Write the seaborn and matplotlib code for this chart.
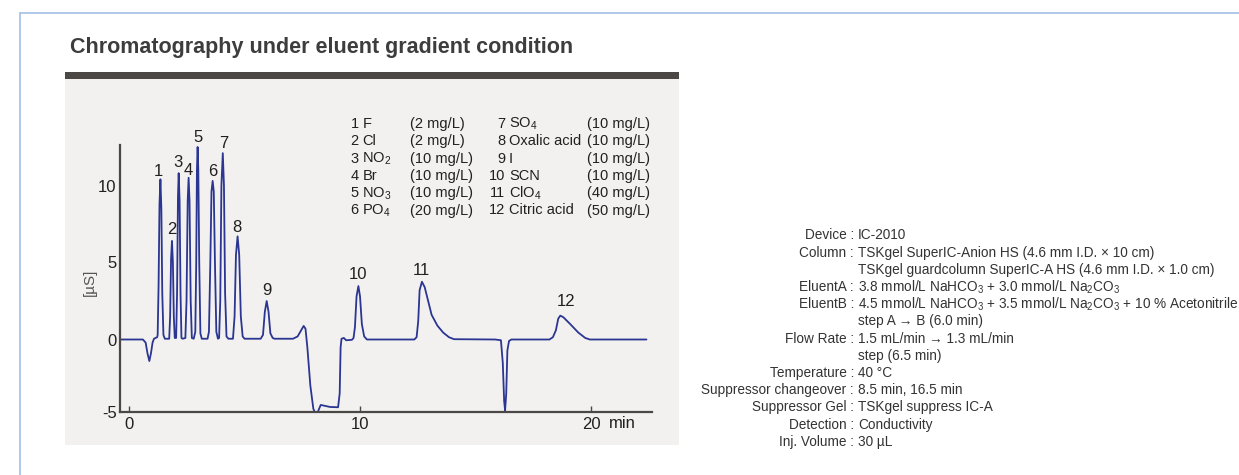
import numpy as np
import pandas as pd
import seaborn as sns
import matplotlib.pyplot as plt
from matplotlib.patches import Rectangle
from matplotlib.lines import Line2D

# trace (time in min, signal in uS)
trace_t = [-0.39, 0.6, 0.72, 0.8, 0.88, 0.95, 1.02, 1.08, 1.15, 1.22,
           1.24, 1.28, 1.32, 1.36, 1.40, 1.44, 1.49, 1.55,
           1.74, 1.78, 1.82, 1.86, 1.90, 1.94, 1.98,
           2.04, 2.08, 2.12, 2.15, 2.19, 2.23, 2.27,
           2.32, 2.44, 2.49, 2.54, 2.58, 2.62, 2.67, 2.72,
           2.80, 2.87, 2.91, 2.94, 2.97, 3.00, 3.04, 3.09, 3.15,
           3.40, 3.46, 3.52, 3.57, 3.62, 3.67, 3.72, 3.78, 3.85,
           3.90, 3.95, 4.00, 4.06, 4.11, 4.16, 4.22, 4.30,
           4.50, 4.57, 4.63, 4.70, 4.77, 4.84, 4.92, 5.00,
           5.70, 5.80, 5.88, 5.96, 6.04, 6.12, 6.22, 6.30,
           7.10, 7.30, 7.45, 7.56, 7.64, 7.72, 7.85, 7.98, 8.08, 8.14, 8.20, 8.30,
           8.45, 8.70, 9.05, 9.12, 9.16, 9.20, 9.30, 9.40, 9.65,
           9.72, 9.78, 9.85, 9.93, 10.00, 10.08, 10.18, 10.30,
           12.35, 12.45, 12.52, 12.58, 12.68, 12.80, 12.95, 13.10, 13.35, 13.60, 13.85, 14.07,
           15.85, 16.10, 16.18, 16.24, 16.28, 16.33, 16.38, 16.45, 16.55,
           18.20, 18.35, 18.48, 18.58, 18.67, 18.80, 19.10, 19.45, 19.75, 19.95,
           22.40]
trace_s = [0.0, 0.0, -0.2, -0.9, -1.4, -0.9, -0.2, 0.05, 0.1, 0.15,
           0.3, 3.5, 8.8, 10.4, 8.5, 3.0, 0.3, 0.05,
           0.05, 1.5, 5.2, 6.4, 5.0, 1.5, 0.1,
           0.1, 3.0, 9.3, 10.8, 9.0, 3.0, 0.1,
           0.05, 0.1, 2.5, 9.0, 10.5, 9.0, 2.5, 0.1,
           0.05, 0.5, 5.0, 11.0, 12.5, 11.0, 5.0, 0.4, 0.05,
           0.05, 0.5, 5.0, 9.6, 10.3, 9.6, 5.0, 0.5, 0.05,
           0.1, 2.5, 10.0, 12.1, 10.0, 3.0, 0.2, 0.05,
           0.05, 1.5, 5.5, 6.7, 5.5, 1.5, 0.2, 0.05,
           0.05, 0.3, 1.8, 2.5, 1.8, 0.4, 0.1, 0.05,
           0.05, 0.2, 0.6, 0.88, 0.7, -0.5, -3.0, -4.5, -4.85, -4.9, -4.6, -4.25,
           -4.3, -4.38, -4.4, -3.5, -0.5, 0.05, 0.1, -0.05, -0.02,
           0.1, 0.8, 2.8, 3.47, 2.8, 1.0, 0.2, 0.0,
           0.0, 0.15, 1.2, 3.2, 3.75, 3.4, 2.5, 1.6, 0.9, 0.45, 0.15, 0.02,
           0.0, -0.05, -1.5, -4.0, -4.6, -3.5, -0.7, -0.1, 0.0,
           0.0, 0.15, 0.6, 1.35, 1.55, 1.45, 1.0, 0.45, 0.1, 0.0,
           0.0]

peak_ids = ["1", "2", "3", "4", "5", "6", "7", "8", "9", "10", "11", "12"]
peak_label_t = [1.29, 1.84, 2.10, 2.57, 2.97, 3.62, 4.08, 4.67, 5.96, 9.93, 12.64, 18.92]
peak_label_s = [10.9, 7.15, 11.5, 11.0, 13.1, 10.9, 12.7, 7.3, 3.15, 4.25, 4.47, 2.45]

analyte_no = ["1", "2", "3", "4", "5", "6", "7", "8", "9", "10", "11", "12"]
analyte = ["F", "Cl", "NO$_2$", "Br", "NO$_3$", "PO$_4$",
           "SO$_4$", "Oxalic acid", "I", "SCN", "ClO$_4$", "Citric acid"]
conc = ["(2 mg/L)", "(2 mg/L)", "(10 mg/L)", "(10 mg/L)", "(10 mg/L)", "(20 mg/L)",
        "(10 mg/L)", "(10 mg/L)", "(10 mg/L)", "(10 mg/L)", "(40 mg/L)", "(50 mg/L)"]

cond_labels = ["Device", "Column", "", "EluentA", "EluentB", "", "Flow Rate", "",
               "Temperature", "Suppressor changeover", "Suppressor Gel", "Detection", "Inj. Volume"]
cond_values = ["IC-2010",
               "TSKgel SuperIC-Anion HS (4.6 mm I.D. × 10 cm)",
               "TSKgel guardcolumn SuperIC-A HS (4.6 mm I.D. × 1.0 cm)",
               "3.8 mmol/L NaHCO$_3$ + 3.0 mmol/L Na$_2$CO$_3$",
               "4.5 mmol/L NaHCO$_3$ + 3.5 mmol/L Na$_2$CO$_3$ + 10 % Acetonitrile",
               "step A → B (6.0 min)",
               "1.5 mL/min → 1.3 mL/min",
               "step (6.5 min)",
               "40 °C",
               "8.5 min, 16.5 min",
               "TSKgel suppress IC-A",
               "Conductivity",
               "30 µL"]

x_ticks = [0, 10, 20]
y_ticklabels = ["-5", "0", "5", "10"]

sns.set_style("white")
plt.rcParams['font.family'] = ['Liberation Sans', 'DejaVu Sans']
plt.rcParams['mathtext.fontset'] = 'custom'
plt.rcParams['mathtext.rm'] = 'Liberation Sans'
plt.rcParams['mathtext.it'] = 'Liberation Sans:italic'
plt.rcParams['mathtext.bf'] = 'Liberation Sans:bold'

W, H = 1239, 475
fig = plt.figure(figsize=(W / 100, H / 100), dpi=100)
fig.patch.set_facecolor('white')

def fx(px):
    return px / W

def fy(py):
    return 1 - py / H

# page frame and panel
fig.add_artist(Line2D([fx(20), fx(20)], [fy(13), 0], color='#a9c4e8', lw=1.3))
fig.add_artist(Line2D([fx(20), 1], [fy(13), fy(13)], color='#a9c4e8', lw=1.3))
fig.add_artist(Rectangle((fx(65), fy(445)), fx(679) - fx(65), fy(79) - fy(445),
                         facecolor='#f2f1ef', edgecolor='none', zorder=0))
fig.add_artist(Rectangle((fx(65), fy(79)), fx(679) - fx(65), fy(72) - fy(79),
                         facecolor='#4b4745', edgecolor='none'))
fig.text(fx(70), fy(48), "Chromatography under eluent gradient condition",
         fontsize=15.5, fontweight='bold', color='#3d3d3d', va='center', ha='left')

# chromatogram axes
ax = fig.add_axes([fx(120), fy(412), fx(652) - fx(120), fy(100) - fy(412)])
ax.set_facecolor('none')
y_min = -(412 - 339.5) / 15.4
ax.set_xlim(-0.39, 22.64)
ax.set_ylim(y_min, (339.5 - 100) / 15.4)

df = pd.DataFrame({"t": trace_t, "s": trace_s})
sns.lineplot(data=df, x="t", y="s", sort=False, estimator=None,
             color='#2b3592', linewidth=1.3, ax=ax)

for lab, t, s in zip(peak_ids, peak_label_t, peak_label_s):
    ax.text(t, s, lab, fontsize=12, color='#231f20', ha='center', va='center')

axis_col = '#4b4745'
for side in ['top', 'right']:
    ax.spines[side].set_visible(False)
ax.spines['left'].set_color(axis_col)
ax.spines['bottom'].set_color(axis_col)
ax.spines['left'].set_linewidth(1.6)
ax.spines['bottom'].set_linewidth(1.6)
ax.spines['left'].set_bounds(y_min, 12.63)

ax.set_xticks(x_ticks)
ax.set_xticklabels([str(v) for v in x_ticks])
ax.set_yticks([y_min, 0, 5, 10])
ax.set_yticklabels(y_ticklabels)
ax.tick_params(axis='x', direction='in', length=4, width=1, color=axis_col,
               labelsize=12, labelcolor='#231f20', pad=3.5, bottom=True)
ax.tick_params(axis='y', length=0, labelsize=12, labelcolor='#231f20', pad=2.5, left=True)
ax.set_xlabel("")
ax.set_ylabel("")

fig.text(fx(622), fy(424), "min", fontsize=12, color='#231f20', ha='center', va='center')
fig.text(fx(90), fy(282), "[µS]", fontsize=11, color='#555555', rotation=90,
         ha='center', va='center')

# analyte table
row_y = [128 + 17.3 * i for i in range(6)]
for i in range(12):
    col = i // 6
    y = row_y[i % 6]
    num_x = [358.5, 505][col]
    name_x = [362.5, 509][col]
    conc_x = [410, 587][col]
    fig.text(fx(num_x), fy(y), analyte_no[i], fontsize=10.5, color='#231f20', ha='right', va='baseline')
    fig.text(fx(name_x), fy(y), analyte[i], fontsize=10.5, color='#231f20', ha='left', va='baseline')
    fig.text(fx(conc_x), fy(y), conc[i], fontsize=10.5, color='#231f20', ha='left', va='baseline')

# conditions
for i, (lab, val) in enumerate(zip(cond_labels, cond_values)):
    y = 239.5 + 17.2 * i
    if lab:
        fig.text(fx(854), fy(y), lab + " :", fontsize=9.8, color='#333333', ha='right', va='baseline')
    fig.text(fx(858), fy(y), val, fontsize=9.8, color='#333333', ha='left', va='baseline')

fig.savefig("out.png", dpi=100, facecolor='white')
